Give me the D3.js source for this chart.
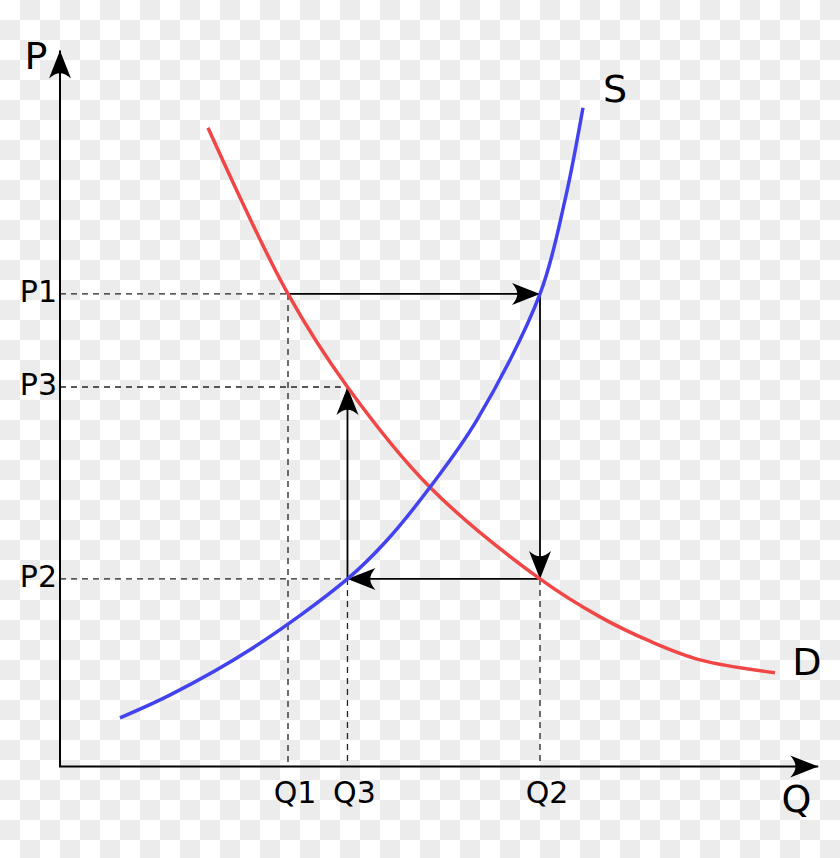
<!DOCTYPE html>
<html lang="en">
<head>
<meta charset="UTF-8">
<title>Supply and demand</title>
<script src="https://cdn.jsdelivr.net/npm/d3@7"></script>
<style>
    body { margin: 0; }
    text { font-family: "DejaVu Sans", sans-serif; fill: #000; }
</style>
</head>
<body>
<div id="chart"></div>
<script>
// curve samples (quantity, price)
const supply = [[8.0, 6.8], [14.7, 10.0], [25.33, 16.3], [38.33, 26.2], [43.6, 31.6], [49.33, 39.0], [55.6, 48.4], [64.0, 66.0], [67.33, 79.1], [69.73, 92.0]];
const demand = [[19.73, 89.2], [30.4, 66.0], [38.33, 53.0], [49.33, 39.0], [64.0, 26.2], [72.0, 20.9], [78.67, 17.5], [85.33, 14.9], [95.33, 13.1]];

// levels
const qNames = ["Q1", "Q3", "Q2"];
const qValues = [30.4, 38.33, 64.0];
const pNames = ["P1", "P3", "P2"];
const pValues = [66.0, 53.0, 26.2];

// the adjustment path: P1 -> Q2 -> P2 -> Q3 -> P3
const steps = [
    [[30.4, 66.0], [64.0, 66.0]],
    [[64.0, 66.0], [64.0, 26.2]],
    [[64.0, 26.2], [38.33, 26.2]],
    [[38.33, 26.2], [38.33, 53.0]]
];

const width = 840, height = 858;
const x = d3.scaleLinear().domain([0, 100]).range([60, 810]);
const y = d3.scaleLinear().domain([0, 100]).range([766.5, 50.5]);

const svg = d3.select("#chart").append("svg")
    .attr("width", width).attr("height", height);

// checkerboard background
const defs = svg.append("defs");
const pat = defs.append("pattern").attr("id", "checker")
    .attr("width", 40).attr("height", 40).attr("patternUnits", "userSpaceOnUse");
pat.append("rect").attr("width", 40).attr("height", 40).attr("fill", "#fff");
pat.append("rect").attr("x", 20).attr("width", 20).attr("height", 20).attr("fill", "#ececec");
pat.append("rect").attr("y", 20).attr("width", 20).attr("height", 20).attr("fill", "#ececec");
svg.append("rect").attr("width", width).attr("height", height).attr("fill", "url(#checker)");

// arrow head
defs.append("marker").attr("id", "head")
    .attr("markerUnits", "userSpaceOnUse")
    .attr("viewBox", "-29 -12 31 24")
    .attr("markerWidth", 31).attr("markerHeight", 24)
    .attr("refX", 0).attr("refY", 0)
    .attr("orient", "auto")
    .append("path")
    .attr("d", "M0,0 L-28,-11 C-21,-3 -21,3 -28,11 Z")
    .attr("fill", "#000");

// dashed guides
const g = svg.append("g").attr("stroke", "#222").attr("stroke-width", 1.3).attr("stroke-dasharray", "6,5");
pValues.forEach((p, i) => {
    // horizontal to the point on demand (P1, P3) or supply (P2)
    const q = i === 0 ? qValues[0] : qValues[1];
    g.append("line").attr("x1", x(0)).attr("x2", x(q)).attr("y1", y(p)).attr("y2", y(p));
});
g.append("line").attr("x1", x(qValues[0])).attr("x2", x(qValues[0])).attr("y1", y(pValues[0])).attr("y2", y(0));
g.append("line").attr("x1", x(qValues[1])).attr("x2", x(qValues[1])).attr("y1", y(pValues[2])).attr("y2", y(0));
g.append("line").attr("x1", x(qValues[2])).attr("x2", x(qValues[2])).attr("y1", y(pValues[2])).attr("y2", y(0));

// solid arrows
svg.append("g").selectAll("line").data(steps).join("line")
    .attr("x1", d => x(d[0][0])).attr("y1", d => y(d[0][1]))
    .attr("x2", d => x(d[1][0])).attr("y2", d => y(d[1][1]))
    .attr("stroke", "#000").attr("stroke-width", 1.8)
    .attr("marker-end", "url(#head)");

// curves
const line = d3.line().x(d => x(d[0])).y(d => y(d[1])).curve(d3.curveCatmullRom);
svg.append("path").attr("d", line(demand)).attr("fill", "none")
    .attr("stroke", "#f04646").attr("stroke-width", 3.5);
svg.append("path").attr("d", line(supply)).attr("fill", "none")
    .attr("stroke", "#4242ee").attr("stroke-width", 3.5);

// axes
svg.append("line").attr("x1", x(0)).attr("y1", y(0)).attr("x2", x(0)).attr("y2", y(100))
    .attr("stroke", "#000").attr("stroke-width", 2).attr("marker-end", "url(#head)");
svg.append("line").attr("x1", x(0) - 1).attr("y1", y(0)).attr("x2", x(101.1)).attr("y2", y(0))
    .attr("stroke", "#000").attr("stroke-width", 2).attr("marker-end", "url(#head)");

// tick labels
svg.append("g").selectAll("text").data(pNames).join("text")
    .attr("x", x(0) - 3).attr("y", (d, i) => y(pValues[i]) + 8)
    .attr("text-anchor", "end").attr("font-size", 30).text(d => d);
svg.append("g").selectAll("text").data(qNames).join("text")
    .attr("x", (d, i) => x(qValues[i]) + 7).attr("y", 803)
    .attr("text-anchor", "middle").attr("font-size", 30).text(d => d);

// names
const big = [["P", 36, 69], ["Q", 796.5, 812], ["S", 615, 102], ["D", 807, 675]];
svg.append("g").selectAll("text").data(big).join("text")
    .attr("x", d => d[1]).attr("y", d => d[2])
    .attr("text-anchor", "middle").attr("font-size", 38).text(d => d[0]);
</script>
</body>
</html>
